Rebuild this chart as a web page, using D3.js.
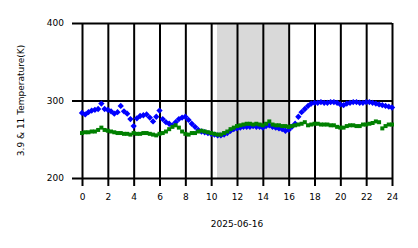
<!DOCTYPE html>
<html>
<head>
<meta charset="utf-8">
<script src="https://cdn.jsdelivr.net/npm/d3@7/dist/d3.min.js"></script>
<style>
  body { margin: 0; background: #fff; }
  text { font-family: "DejaVu Sans", sans-serif; fill: #000; }
</style>
</head>
<body>
<div id="chart"></div>
<script>
// hours of the day, sampled every 15 minutes
const hours = d3.range(0, 24.01, 0.25);

const blueVals = [
  284, 282, 285, 287, 288, 289, 296, 289, 288, 286, 283, 285, 293, 286, 283, 276,
  267, 277, 280, 281, 282, 278, 273, 279, 287, 276, 272, 270, 268, 272, 276, 278,
  279, 275, 270, 266, 262, 260, 259, 258, 257, 256, 255, 255, 256, 258, 261, 263,
  264, 265, 266, 266, 266, 267, 266, 266, 265, 267, 268, 266, 265, 264, 263, 261,
  262, 266, 270, 279, 285, 289, 293, 296, 297, 297, 298, 297, 297, 298, 298, 297,
  295, 294, 296, 297, 298, 298, 297, 297, 298, 298, 297, 296, 295, 294, 293, 292,
  291
];

const greenVals = [
  258, 259, 259, 260, 260, 262, 265, 262, 261, 260, 259, 258, 258, 257, 257, 256,
  258, 257, 257, 258, 258, 257, 256, 255, 257, 258, 260, 263, 266, 268, 265, 260,
  257, 256, 258, 258, 260, 261, 260, 259, 258, 257, 256, 256, 258, 260, 263, 265,
  267, 268, 269, 270, 270, 269, 270, 269, 268, 270, 273, 269, 268, 268, 267, 267,
  266, 267, 268, 269, 270, 272, 268, 269, 270, 270, 269, 269, 269, 268, 268, 266,
  265, 265, 267, 268, 268, 267, 267, 269, 269, 270, 271, 273, 272, 264, 267, 269,
  269
];

const xTicks = [0, 2, 4, 6, 8, 10, 12, 14, 16, 18, 20, 22, 24];
const yTicks = [200, 300, 400];
const nightBand = [10.45, 16.0];
const dateLabel = "2025-06-16";
const yLabel = "3.9 & 11 Temperature(K)";

const margin = { top: 23, right: 26, bottom: 70, left: 82 };
const fullWidth = 418, fullHeight = 248;
const width = fullWidth - margin.left - margin.right;
const height = fullHeight - margin.top - margin.bottom;

const svg = d3.select("#chart")
    .append("svg")
        .attr("width", fullWidth)
        .attr("height", fullHeight)
    .append("g")
        .attr("transform", `translate(${margin.left}, ${margin.top})`);

const x = d3.scaleLinear().domain([0, 24]).range([0, width]);
const y = d3.scaleLinear().domain([200, 400]).range([height, 0]);

// shaded band
svg.append("rect")
    .attr("x", x(nightBand[0]))
    .attr("y", 0)
    .attr("width", x(nightBand[1]) - x(nightBand[0]))
    .attr("height", height)
    .style("fill", "#d9d9d9");

// grid + ticks
const xAxis = d3.axisBottom(x).tickValues(xTicks).tickSize(height + 8).tickPadding(8);
const gx = svg.append("g").call(xAxis);
gx.select(".domain").remove();
gx.selectAll("line").attr("stroke", "#000").attr("stroke-width", 2);
gx.selectAll("text").style("font-size", "9px");

const yAxis = d3.axisLeft(y).tickValues(yTicks).tickSize(width + 10).tickPadding(8);
const gy = svg.append("g").attr("transform", `translate(${width}, 0)`).call(yAxis);
gy.select(".domain").remove();
gy.selectAll("line").attr("stroke", "#000").attr("stroke-width", 2);
gy.selectAll("text").style("font-size", "9px");

// series
const diamond = d3.symbol().type(d3.symbolSquare).size(20)();
const square = d3.symbol().type(d3.symbolSquare).size(16)();

svg.append("g").selectAll("path")
    .data(hours.map((h, i) => [h, blueVals[i]]))
    .enter()
    .append("path")
        .attr("d", diamond)
        .attr("transform", d => `translate(${x(d[0])}, ${y(d[1])}) rotate(45)`)
        .style("fill", "#0000ff");

svg.append("g").selectAll("path")
    .data(hours.map((h, i) => [h, greenVals[i]]))
    .enter()
    .append("path")
        .attr("d", square)
        .attr("transform", d => `translate(${x(d[0])}, ${y(d[1])})`)
        .style("fill", "#008000");

// labels
svg.append("text")
    .attr("x", width / 2)
    .attr("y", height + 49)
    .style("text-anchor", "middle")
    .style("font-size", "9px")
    .text(dateLabel);

svg.append("text")
    .attr("transform", `translate(${-58}, ${height / 2}) rotate(-90)`)
    .style("text-anchor", "middle")
    .style("font-size", "9px")
    .text(yLabel);
</script>
</body>
</html>
